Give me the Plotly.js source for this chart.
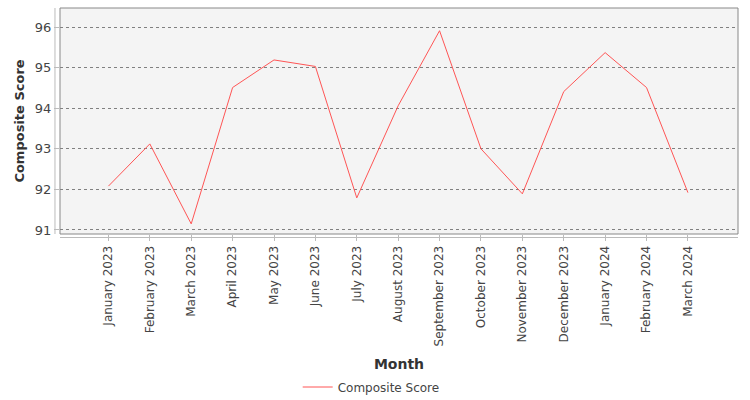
<!DOCTYPE html>
<html>
<head>
<meta charset="utf-8">
<script src="https://cdn.plot.ly/plotly-3.0.1.min.js"></script>
<style>
  body { margin: 0; background: #fff; }
  #chart { width: 750px; height: 400px; }
</style>
</head>
<body>
<div id="chart"></div>
<script>
// Monthly composite score
const months = [
  "January 2023", "February 2023", "March 2023", "April 2023", "May 2023",
  "June 2023", "July 2023", "August 2023", "September 2023", "October 2023",
  "November 2023", "December 2023", "January 2024", "February 2024", "March 2024"
];
const scores = [92.08, 93.12, 91.15, 94.51, 95.19, 95.03, 91.79, 94.06, 95.91, 93.0,
  91.89, 94.41, 95.37, 94.51, 91.92];
const yTicks = [91, 92, 93, 94, 95, 96];

const fontFam = '"DejaVu Sans", sans-serif';

const trace = {
  type: 'scatter',
  mode: 'lines',
  x: months,
  y: scores,
  name: 'Composite Score',
  line: { color: '#ff5555', width: 1 }
};

const layout = {
  width: 750,
  height: 400,
  margin: { l: 60, r: 12, t: 8, b: 166 },
  paper_bgcolor: '#ffffff',
  plot_bgcolor: '#f4f4f4',
  font: { family: fontFam, size: 12, color: '#444444' },
  showlegend: true,
  legend: {
    orientation: 'h',
    x: 0.459, xanchor: 'center',
    yref: 'container', y: 0.0325, yanchor: 'middle',
    itemwidth: 30,
    font: { size: 12, color: '#444444' }
  },
  xaxis: {
    type: 'category',
    range: [-1.17, 15.21],
    tickangle: -90,
    ticks: 'outside', ticklen: 6, tickcolor: '#bbbbbb',
    showgrid: false,
    zeroline: false,
    showline: false,
    tickfont: { size: 12, color: '#444444' },
    title: { text: 'Month', font: { size: 14, color: '#333333', weight: 'bold' }, standoff: 14 }
  },
  yaxis: {
    range: [90.9, 96.47],
    tickvals: yTicks,
    ticks: 'outside', ticklen: 5, tickcolor: '#bbbbbb',
    showgrid: true, gridcolor: '#808080', griddash: 'dot', gridwidth: 1,
    zeroline: false,
    showline: false,
    tickfont: { size: 13, color: '#444444' },
    title: { text: 'Composite Score', font: { size: 13, color: '#333333', weight: 'bold' }, standoff: 7 }
  },
  shapes: [
    // plot border
    { type: 'rect', xref: 'paper', yref: 'paper', x0: 0, x1: 1, y0: 0, y1: 1,
      line: { color: '#888888', width: 1 }, fillcolor: 'rgba(0,0,0,0)' },
    // offset axis lines
    { type: 'line', xref: 'paper', yref: 'paper', x0: -0.0074, x1: -0.0074, y0: 0, y1: 1,
      line: { color: '#bbbbbb', width: 1 } },
    { type: 'line', xref: 'paper', yref: 'paper', x0: 0, x1: 1, y0: -0.0155, y1: -0.0155,
      line: { color: '#bbbbbb', width: 1 } }
  ]
};

Plotly.newPlot('chart', [trace], layout, { displayModeBar: false, staticPlot: true });
</script>
</body>
</html>
